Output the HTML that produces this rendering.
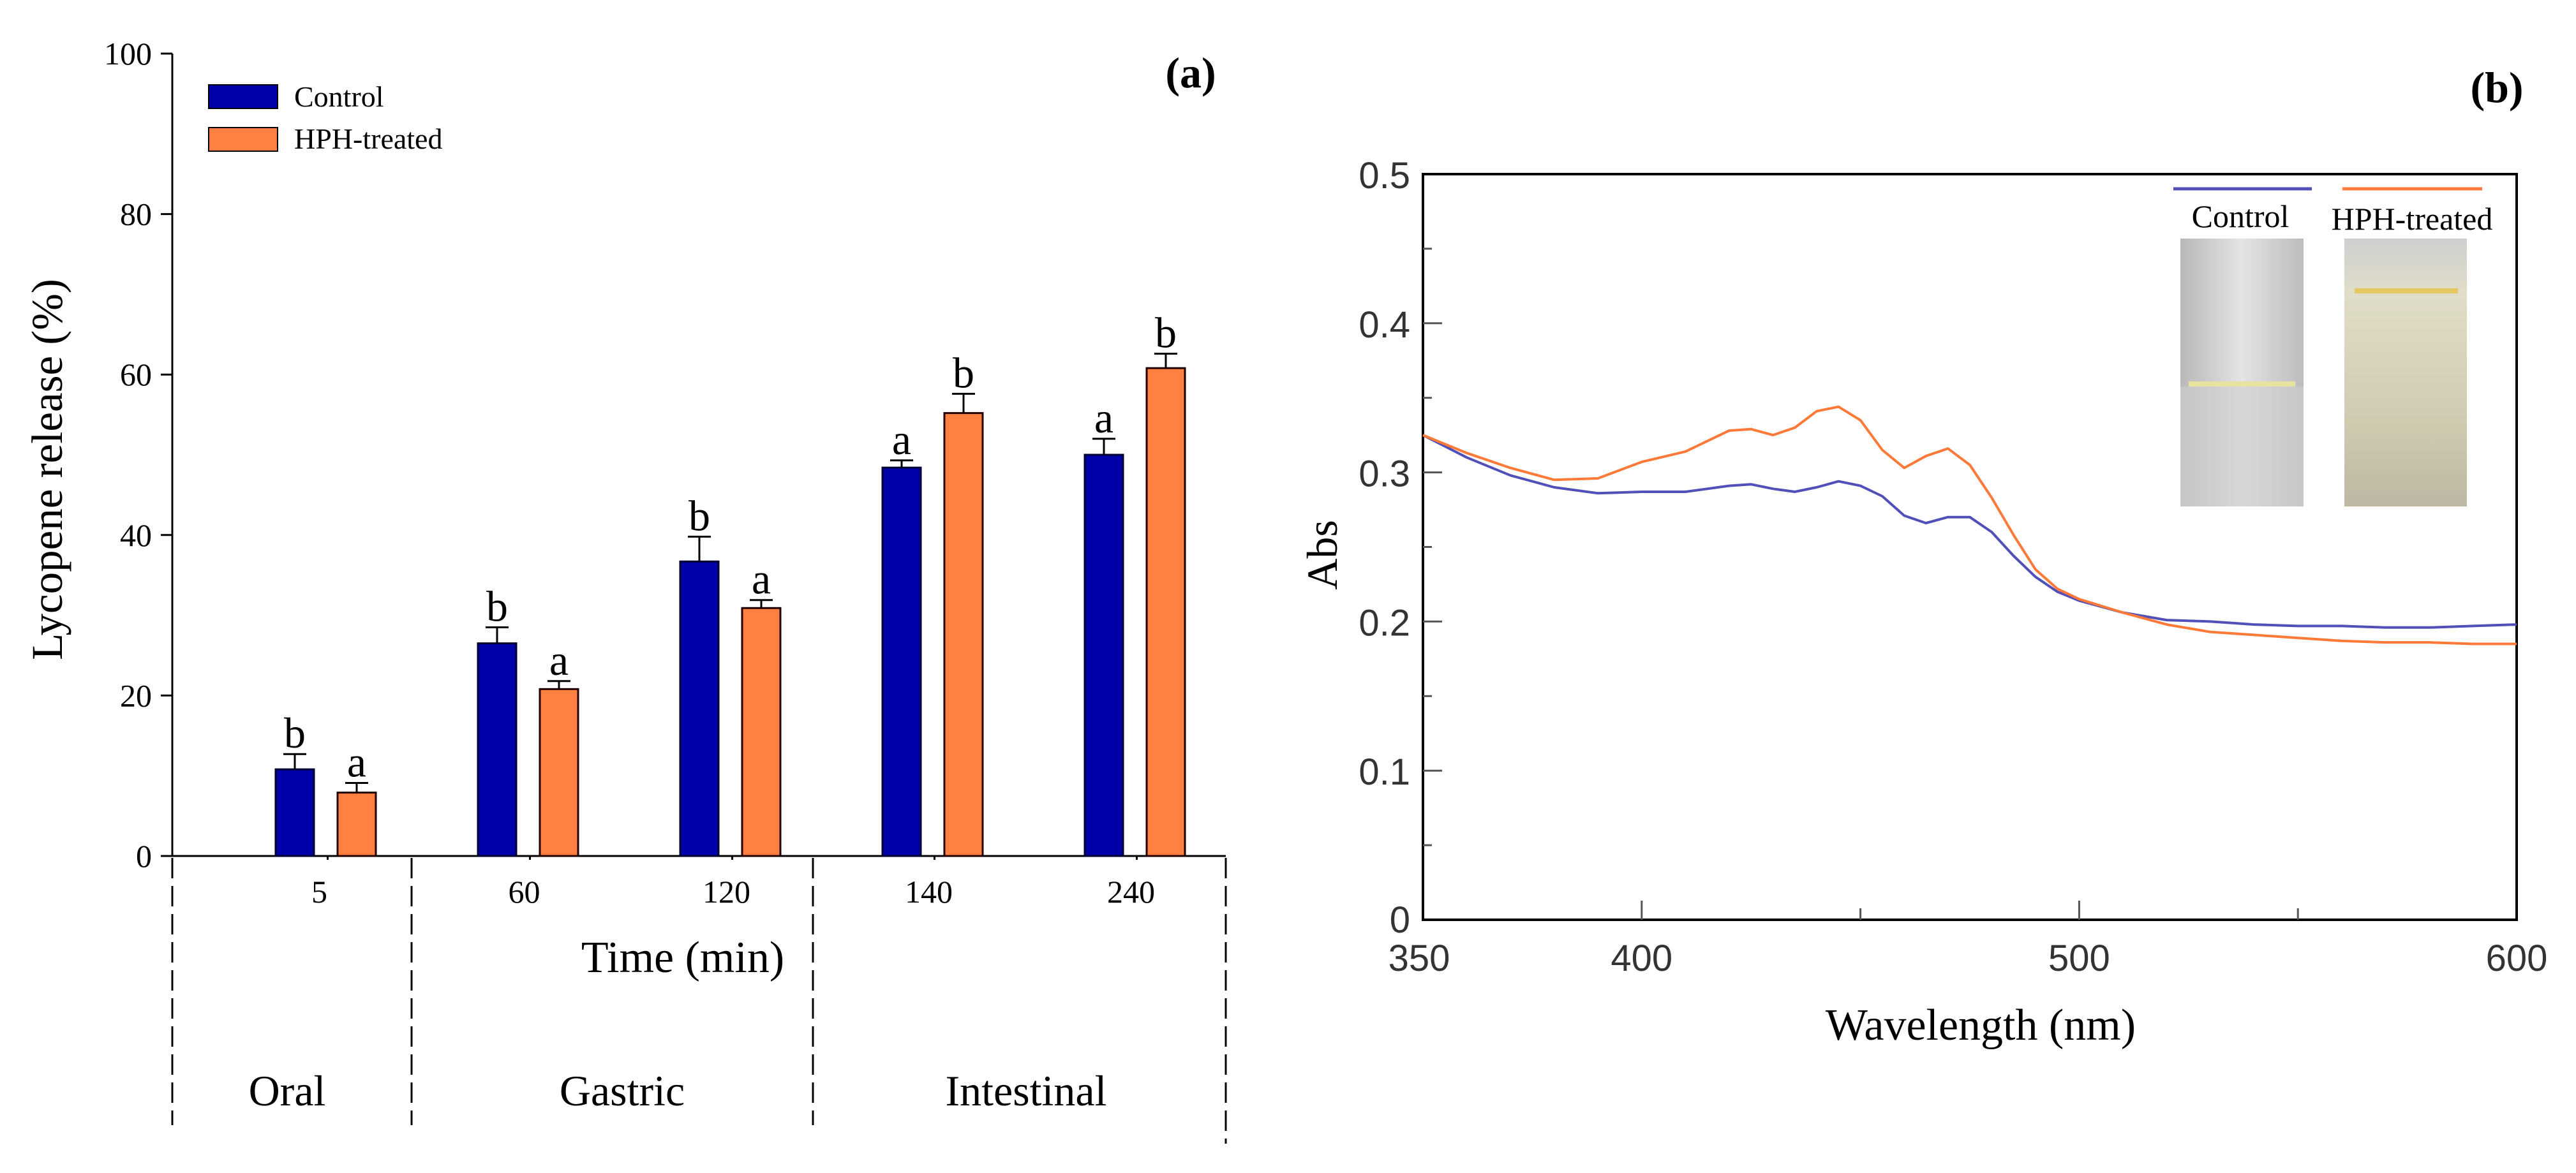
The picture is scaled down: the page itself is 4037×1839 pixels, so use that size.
<!DOCTYPE html>
<html><head><meta charset="utf-8"><style>
html,body{margin:0;padding:0;background:#fff;}
svg{display:block;}
.serif{font-family:"Liberation Serif",serif;}
.sans{font-family:"Liberation Sans Narrow","Liberation Sans",sans-serif;}
</style></head><body>
<svg id="fig" width="4037" height="1839" viewBox="0 0 4037 1839" xmlns="http://www.w3.org/2000/svg">
<defs>
<linearGradient id="tubeA" x1="0" x2="1"><stop offset="0" stop-color="#b8b8b8"/><stop offset="0.5" stop-color="#e4e4e6"/><stop offset="1" stop-color="#bcbcbc"/></linearGradient>
<linearGradient id="tubeB" x1="0" x2="0" y1="0" y2="1"><stop offset="0" stop-color="#cfcfcf"/><stop offset="0.2" stop-color="#e0ddc8"/><stop offset="0.7" stop-color="#cfc9b0"/><stop offset="1" stop-color="#bdb7a4"/></linearGradient>
</defs>
<g id="chartA"></g>
<g id="chartB"></g>
</svg>
<script>
// ---------- Chart (a) data ----------
const categories = ["5","60","120","140","240"];
const controlValues = [10.8, 26.5, 36.7, 48.4, 50.0];
const controlErr = [1.9, 2.0, 3.1, 0.9, 2.0];
const hphValues = [7.9, 20.8, 30.9, 55.2, 60.8];
const hphErr = [1.2, 1.0, 1.0, 2.4, 1.8];
const controlLetters = ["b","b","b","a","a"];
const hphLetters = ["a","a","a","b","b"];
const yTicksA = [0,20,40,60,80,100];
const phases = ["Oral","Gastric","Intestinal"];

// ---------- Chart (b) data ----------
const wavelengths = [350,360,370,380,390,400,410,420,425,430,435,440,445,450,455,460,465,470,475,480,485,490,495,500,510,520,530,540,550,560,570,580,590,600];
const controlAbs = [0.325,0.310,0.298,0.290,0.286,0.287,0.287,0.291,0.292,0.289,0.287,0.290,0.294,0.291,0.284,0.271,0.266,0.270,0.270,0.260,0.244,0.230,0.220,0.214,0.206,0.201,0.200,0.198,0.197,0.197,0.196,0.196,0.197,0.198];
const hphAbs = [0.325,0.313,0.303,0.295,0.296,0.307,0.314,0.328,0.329,0.325,0.330,0.341,0.344,0.335,0.315,0.303,0.311,0.316,0.305,0.283,0.258,0.235,0.222,0.215,0.206,0.198,0.193,0.191,0.189,0.187,0.186,0.186,0.185,0.185];
const xTicksB = [350,400,500,600];
const yTicksB = [0,0.1,0.2,0.3,0.4,0.5];

const NS="http://www.w3.org/2000/svg";
function mk(parent,tag,attrs,text){const e=document.createElementNS(NS,tag);for(const k in attrs)e.setAttribute(k,attrs[k]);if(text!==undefined)e.textContent=text;parent.appendChild(e);return e;}

// ---------- Chart (a) ----------
(function(){
const g=document.getElementById('chartA');
const x0=270,x1=1921,yB=1342,yT=84;
const ya=v=>yB-(v/100)*(yB-yT);
const cx=i=>462+i*317;
const bw=60, off=97;
let e;
e=mk(g,'line',{x1:x0,y1:yT,x2:x0,y2:yB,stroke:'#000','stroke-width':3});


e=mk(g,'line',{x1:x0,y1:yB,x2:x1,y2:yB,stroke:'#000','stroke-width':3});


yTicksA.forEach(t=>{
  mk(g,'line',{x1:x0-18,y1:ya(t),x2:x0,y2:ya(t),stroke:'#000','stroke-width':3});
  e=mk(g,'text',{x:x0-32,y:ya(t)+17,'text-anchor':'end','font-size':50,class:'serif'},String(t));
  
  
});
categories.forEach((c,i)=>{
  mk(g,'line',{x1:cx(i)+off/2+3,y1:yB,x2:cx(i)+off/2+3,y2:yB+6,stroke:'#000','stroke-width':3});
  e=mk(g,'rect',{x:cx(i)-bw/2,y:ya(controlValues[i]),width:bw,height:yB-ya(controlValues[i]),fill:'#0000a8',stroke:'#000033','stroke-width':3});
  
  
  let te=ya(controlValues[i]+controlErr[i]);
  mk(g,'line',{x1:cx(i),y1:ya(controlValues[i]),x2:cx(i),y2:te,stroke:'#000','stroke-width':3});
  mk(g,'line',{x1:cx(i)-18,y1:te,x2:cx(i)+18,y2:te,stroke:'#000','stroke-width':3});
  e=mk(g,'text',{x:cx(i),y:te-10,'text-anchor':'middle','font-size':68,class:'serif'},controlLetters[i]);
  
  
  const hx=cx(i)+off;
  e=mk(g,'rect',{x:hx-bw/2,y:ya(hphValues[i]),width:bw,height:yB-ya(hphValues[i]),fill:'#ff8040',stroke:'#220000','stroke-width':3});
  
  
  te=ya(hphValues[i]+hphErr[i]);
  mk(g,'line',{x1:hx,y1:ya(hphValues[i]),x2:hx,y2:te,stroke:'#000','stroke-width':3});
  mk(g,'line',{x1:hx-18,y1:te,x2:hx+18,y2:te,stroke:'#000','stroke-width':3});
  e=mk(g,'text',{x:hx,y:te-10,'text-anchor':'middle','font-size':68,class:'serif'},hphLetters[i]);
  
  
  e=mk(g,'text',{x:cx(i)+off/2-6+(i==0?-4:0),y:1415,'text-anchor':'middle','font-size':50,class:'serif'},c);
  
  
});
[[270,1764],[645,1764],[1274,1764],[1921,1793]].forEach(d=>{
  e=mk(g,'line',{x1:d[0],y1:yB+3,x2:d[0],y2:d[1],stroke:'#000','stroke-width':3,'stroke-dasharray':'32,12'});
  
  
});
[[450,phases[0]],[975,phases[1]],[1608,phases[2]]].forEach(p=>{
  e=mk(g,'text',{x:p[0],y:1733,'text-anchor':'middle','font-size':68,class:'serif'},p[1]);
  
  
});
e=mk(g,'text',{x:1070,y:1524,'text-anchor':'middle','font-size':70,class:'serif'},'Time (min)');


e=mk(g,'text',{x:0,y:0,'text-anchor':'middle','font-size':69,class:'serif',transform:'translate(97,736) rotate(-90)'},'Lycopene release (%)');


e=mk(g,'text',{x:1866,y:137,'text-anchor':'middle','font-size':68,'font-weight':'bold',class:'serif'},'(a)');


e=mk(g,'rect',{x:327,y:133,width:108,height:37,fill:'#0000a8',stroke:'#000','stroke-width':2});


e=mk(g,'rect',{x:327,y:200,width:108,height:37,fill:'#ff8040',stroke:'#000','stroke-width':2});


e=mk(g,'text',{x:461,y:167,'font-size':46,class:'serif'},'Control');


e=mk(g,'text',{x:461,y:233,'font-size':46,class:'serif'},'HPH-treated');


})();

// ---------- Chart (b) ----------
(function(){
const g=document.getElementById('chartB');
const L=2230,R=3944,T=273,B=1442;
const xb=w=>L+(w-350)/250*(R-L);
const yb=v=>B-v/0.5*(B-T);
let e;
e=mk(g,'rect',{x:L,y:T,width:R-L,height:B-T,fill:'none',stroke:'#000','stroke-width':4});


for(let k=1;k<10;k++){const v=k*0.05;const major=k%2==0;
  mk(g,'line',{x1:L,y1:yb(v),x2:L+(major?30:14),y2:yb(v),stroke:'#555','stroke-width':3});}
[400,450,500,550].forEach(w=>{const major=w%100==0;
  mk(g,'line',{x1:xb(w),y1:B,x2:xb(w),y2:B-(major?30:18),stroke:'#555','stroke-width':3});});
yTicksB.forEach(t=>{
  e=mk(g,'text',{x:2210,y:yb(t)+(t==0?20:22),'text-anchor':'end','font-size':58,fill:'#333',class:'sans'},t==0?'0':t.toFixed(1));
  
  
});
xTicksB.forEach(t=>{
  e=mk(g,'text',{x:xb(t)-(t==350?6:0),y:1522,'text-anchor':'middle','font-size':58,fill:'#333',class:'sans'},String(t));
  
  
});
e=mk(g,'rect',{x:3417,y:374,width:193,height:420,fill:'url(#tubeA)'});


mk(g,'rect',{x:3430,y:598,width:167,height:8,fill:'#e8e2a0'});
mk(g,'rect',{x:3417,y:606,width:193,height:188,fill:'#cfcfcf',opacity:0.6});
e=mk(g,'rect',{x:3674,y:374,width:192,height:420,fill:'url(#tubeB)'});


mk(g,'rect',{x:3690,y:452,width:162,height:8,fill:'#e6c860'});
const line=(arr,col,name)=>{
  const d=arr.map((v,i)=>(i?'L':'M')+xb(wavelengths[i]).toFixed(1)+','+yb(v).toFixed(1)).join(' ');
  const p=mk(g,'path',{d:d,fill:'none',stroke:col,'stroke-width':4,'stroke-linejoin':'round'});
  
  
};
line(controlAbs,'#5050b8','series-control');
line(hphAbs,'#ff7a38','series-hph');
e=mk(g,'line',{x1:3406,y1:296,x2:3623,y2:296,stroke:'#5050b8','stroke-width':5});


e=mk(g,'line',{x1:3671,y1:296,x2:3890,y2:296,stroke:'#ff7a38','stroke-width':5});


e=mk(g,'text',{x:3511,y:356,'text-anchor':'middle','font-size':50,class:'serif'},'Control');


e=mk(g,'text',{x:3780,y:360,'text-anchor':'middle','font-size':50,class:'serif'},'HPH-treated');


e=mk(g,'text',{x:3104,y:1630,'text-anchor':'middle','font-size':70,class:'serif'},'Wavelength (nm)');


e=mk(g,'text',{x:0,y:0,'text-anchor':'middle','font-size':68,class:'serif',transform:'translate(2095,870) rotate(-90)'},'Abs');


e=mk(g,'text',{x:3913,y:160,'text-anchor':'middle','font-size':68,'font-weight':'bold',class:'serif'},'(b)');


})();
</script>
</body></html>
